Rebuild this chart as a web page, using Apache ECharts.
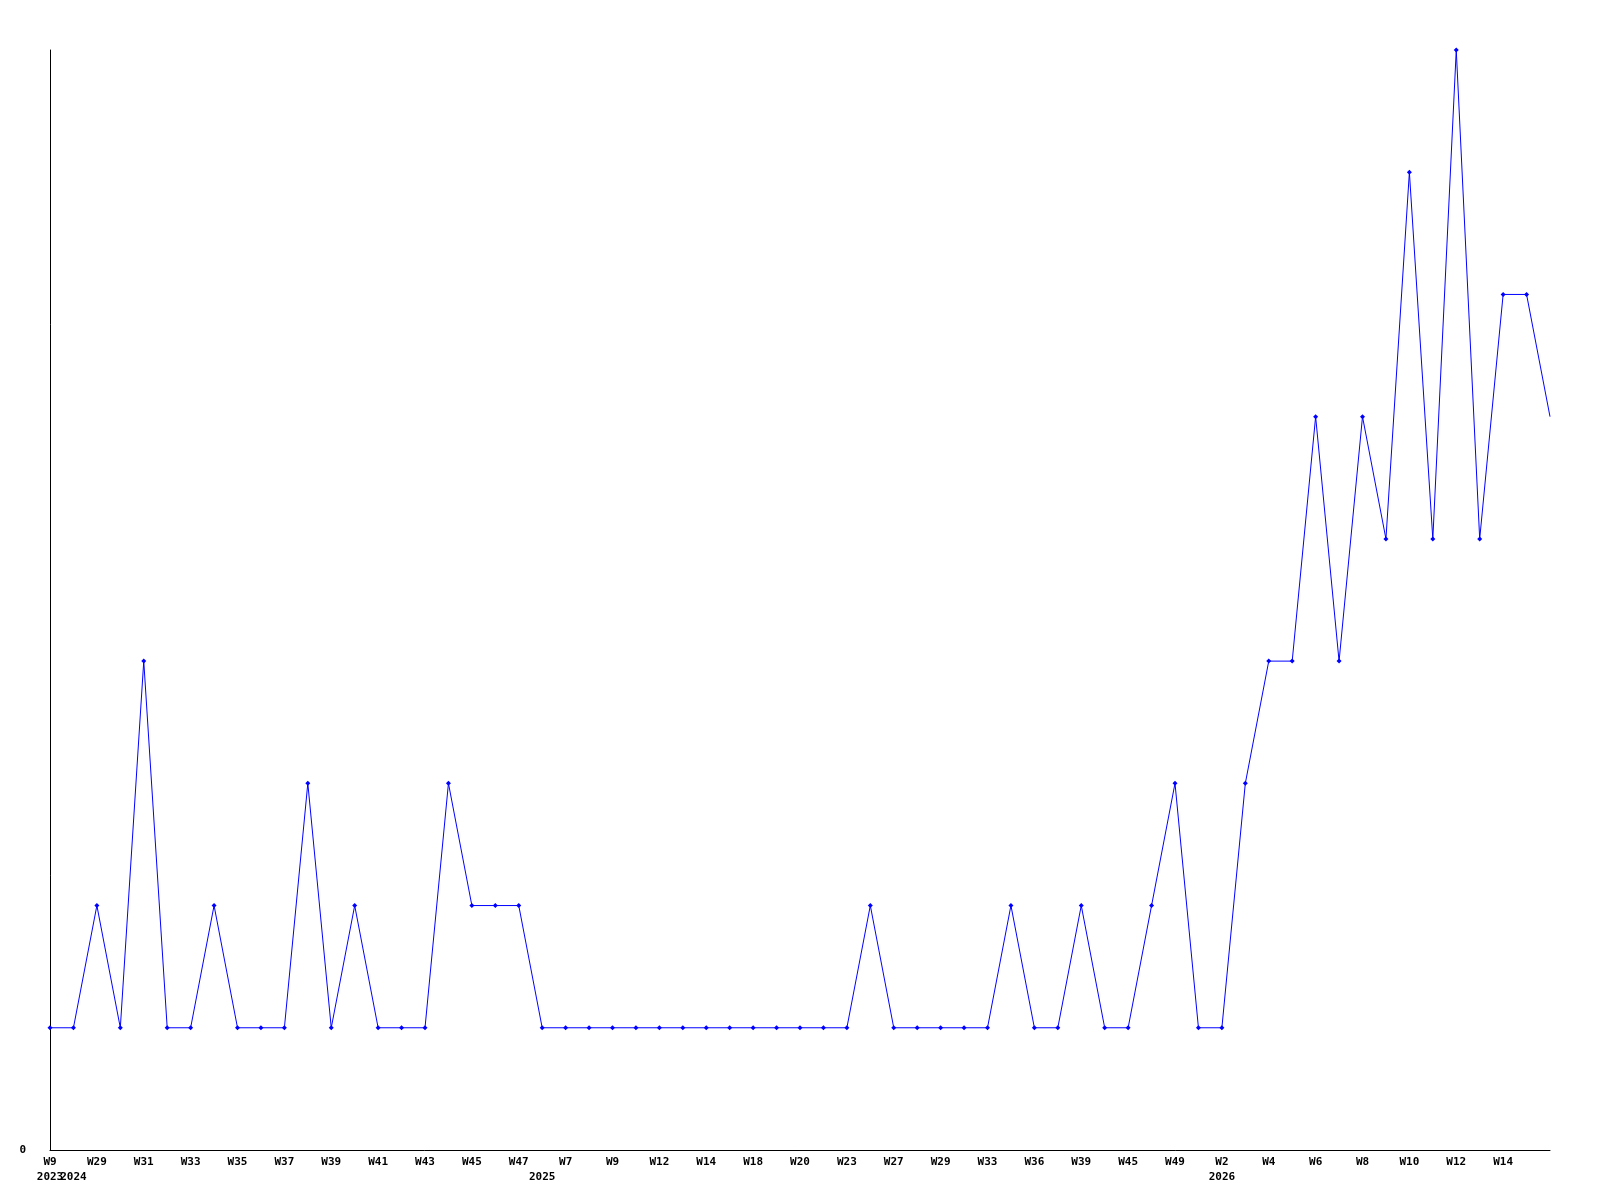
<!DOCTYPE html>
<html>
<head>
<meta charset="utf-8">
<title>weekly</title>
<script src="https://cdn.jsdelivr.net/npm/echarts@6/dist/echarts.min.js"></script>
<style>
  html, body { margin: 0; padding: 0; background: #fff; }
  #main { width: 1600px; height: 1200px; }
</style>
</head>
<body>
<div id="main"></div>
<script>
// week of each point (labels only drawn on every 2nd one)
var weeks = ['W9', 'W28', 'W29', 'W30', 'W31', 'W32', 'W33', 'W34', 'W35', 'W36',
  'W37', 'W38', 'W39', 'W40', 'W41', 'W42', 'W43', 'W44', 'W45', 'W46',
  'W47', 'W6', 'W7', 'W8', 'W9', 'W11', 'W12', 'W13', 'W14', 'W16',
  'W18', 'W19', 'W20', 'W22', 'W23', 'W25', 'W27', 'W28', 'W29', 'W31',
  'W33', 'W34', 'W36', 'W38', 'W39', 'W42', 'W45', 'W47', 'W49', 'W51',
  'W2', 'W3', 'W4', 'W5', 'W6', 'W7', 'W8', 'W9', 'W10', 'W11',
  'W12', 'W13', 'W14', 'W15', 'W16'];
// year shown under first week of that year
var yearStarts = { 0: '2023', 1: '2024', 21: '2025', 50: '2026' };
var counts = [1, 1, 2, 1, 4, 1, 1, 2, 1, 1,
  1, 3, 1, 2, 1, 1, 1, 3, 2, 2,
  2, 1, 1, 1, 1, 1, 1, 1, 1, 1,
  1, 1, 1, 1, 1, 2, 1, 1, 1, 1,
  1, 2, 1, 1, 2, 1, 1, 2, 3, 1,
  1, 3, 4, 4, 6, 4, 6, 5, 8, 5,
  9, 5, 7, 7, 6];

var cats = weeks.map(function (w, i) { return i + ':' + w; });

var chart = echarts.init(document.getElementById('main'));
chart.setOption({
  animation: false,
  backgroundColor: '#ffffff',
  grid: { left: 50, right: 50, top: 50, bottom: 50 },
  xAxis: {
    type: 'category',
    data: cats,
    boundaryGap: false,
    axisLine: { lineStyle: { color: '#000', width: 1 } },
    axisTick: { show: false },
    splitLine: { show: false },
    axisLabel: {
      interval: 0,
      margin: 5,
      color: '#000',
      fontFamily: 'DejaVu Sans Mono',
      fontWeight: 'bold',
      fontSize: 11,
      lineHeight: 15,
      formatter: function (v, i) {
        var showWeek = i % 2 === 0 && i < weeks.length - 1;
        var y = yearStarts[i] || '';
        if (y) return (showWeek ? weeks[i] : ' ') + '\n' + y;
        return showWeek ? weeks[i] : '';
      }
    }
  },
  yAxis: {
    type: 'value',
    min: 0,
    max: 9,
    interval: 9,
    axisLine: { show: true, lineStyle: { color: '#000', width: 1 } },
    axisTick: { show: false },
    splitLine: { show: false },
    axisLabel: {
      margin: 24,
      color: '#000',
      fontFamily: 'DejaVu Sans Mono',
      fontWeight: 'bold',
      fontSize: 11,
      formatter: function (v) { return v === 0 ? '0' : ''; }
    }
  },
  series: [{
    type: 'line',
    data: counts,
    symbol: function (v, p) { return p.dataIndex === counts.length - 1 ? 'none' : 'diamond'; },
    symbolSize: 5,
    showAllSymbol: true,
    itemStyle: { color: '#0000ff' },
    lineStyle: { color: '#0000ff', width: 1 }
  }]
});
</script>
</body>
</html>
